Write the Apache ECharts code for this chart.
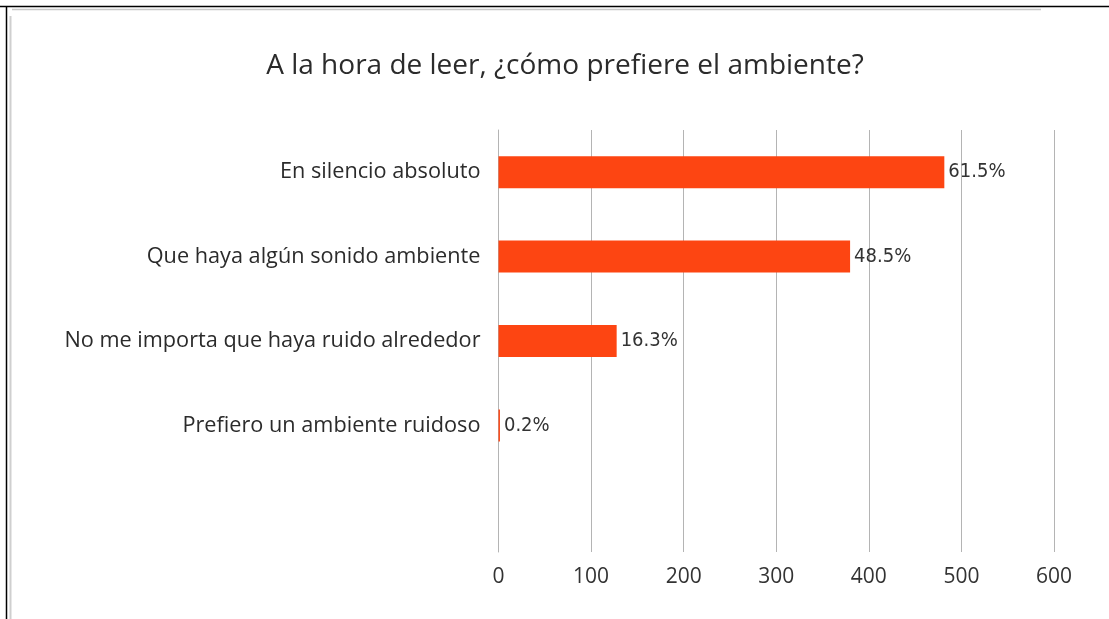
<!DOCTYPE html>
<html>
<head>
<meta charset="utf-8">
<script src="https://cdn.jsdelivr.net/npm/echarts@6/dist/echarts.min.js"></script>
<style>
  html, body { margin: 0; padding: 0; background: #fff; }
  #chart { width: 1109px; height: 619px; }
</style>
</head>
<body>
<div id="chart"></div>
<script>
// Survey: preferred environment while reading (multiple answers allowed)
const titleText = 'A la hora de leer, ¿cómo prefiere el ambiente?';
const categories = [
  'En silencio absoluto',
  'Que haya algún sonido ambiente',
  'No me importa que haya ruido alrededor',
  'Prefiero un ambiente ruidoso',
  ''
];
const percents = [61.5, 48.5, 16.3, 0.2, null];
const respondents = 783;
const xTicks = [0, 100, 200, 300, 400, 500, 600];

// bar length = share of respondents, in people
const counts = percents.map(p => p == null ? null : p / 100 * respondents);

const chart = echarts.init(document.getElementById('chart'), null, { renderer: 'canvas' });
chart.setOption({
  animation: false,
  backgroundColor: '#ffffff',
  title: {
    text: titleText,
    left: 560,
    textAlign: 'center',
    top: 47,
    textStyle: { fontFamily: 'Open Sans', fontSize: 28, fontWeight: 'normal', color: '#2b2b2b' }
  },
  grid: { left: 498.5, right: 55, top: 130, bottom: 67, containLabel: false },
  xAxis: {
    type: 'value',
    min: xTicks[0],
    max: xTicks[xTicks.length - 1],
    interval: 100,
    axisLine: { show: false },
    axisTick: { show: false },
    axisLabel: { fontFamily: 'Open Sans', fontSize: 21, color: '#333333', margin: 15 },
    splitLine: { show: true, lineStyle: { color: '#b4b4b4', width: 1 } }
  },
  yAxis: {
    type: 'category',
    data: categories,
    inverse: true,
    axisLine: { show: true, lineStyle: { color: '#b4b4b4', width: 1 } },
    axisTick: { show: false },
    axisLabel: { fontFamily: 'Open Sans', fontSize: 21.7, color: '#2b2b2b', margin: 18 }
  },
  series: [{
    type: 'bar',
    data: counts,
    barWidth: 32,
    itemStyle: { color: '#fd4512' },
    label: {
      show: true,
      position: 'right',
      distance: 4,
      fontFamily: '"Liberation Sans Narrow", "DejaVu Sans Condensed", sans-serif',
      fontSize: 20,
      color: '#333333',
      formatter: p => percents[p.dataIndex] == null ? '' : percents[p.dataIndex].toFixed(1) + '%'
    }
  }],
  graphic: [
    { type: 'line', shape: { x1: 0, y1: 6.5, x2: 1109, y2: 6.5 }, style: { stroke: '#000', lineWidth: 1.5 } },
    { type: 'line', shape: { x1: 6.5, y1: 6, x2: 6.5, y2: 619 }, style: { stroke: '#000', lineWidth: 1.5 } },
    { type: 'line', shape: { x1: 12, y1: 9.5, x2: 1041, y2: 9.5 }, style: { stroke: '#c8c8c8', lineWidth: 1.5 } },
    { type: 'line', shape: { x1: 10.5, y1: 16, x2: 10.5, y2: 619 }, style: { stroke: '#cfcfcf', lineWidth: 2 } }
  ]
});
</script>
</body>
</html>
